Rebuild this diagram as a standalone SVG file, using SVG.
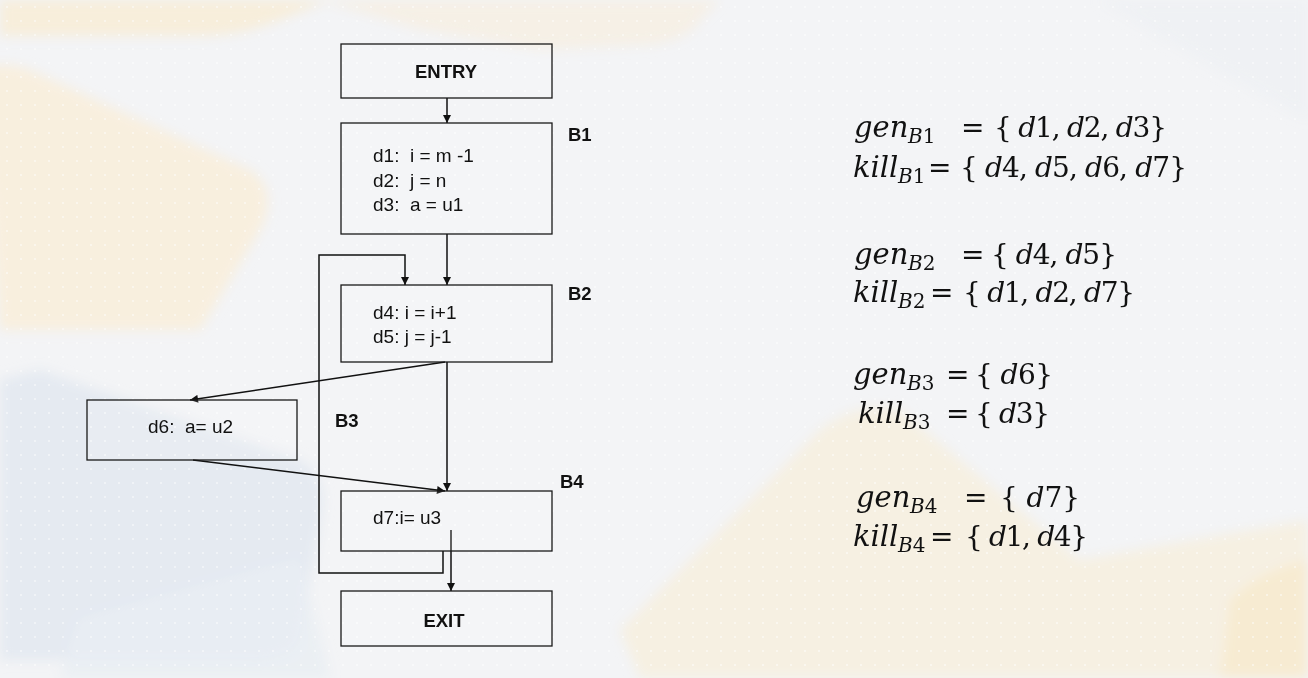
<svg xmlns="http://www.w3.org/2000/svg" width="1308" height="678" viewBox="0 0 1308 678">
<defs>
<style>
.box{fill:rgba(255,255,255,0.12);stroke:#1a1a1a;stroke-width:1.3}
.stmt{font-family:"Liberation Sans",Arial,sans-serif;font-size:19px;fill:#111;white-space:pre}
.lbl{font-family:"Liberation Sans",Arial,sans-serif;font-size:18.5px;font-weight:bold;fill:#111}
.edge{fill:none;stroke:#111;stroke-width:1.5}
.m{font-family:"DejaVu Serif","Liberation Serif",serif;font-size:28px;fill:#111;white-space:pre}
.nm{font-family:"DejaVu Serif","Liberation Serif",serif;font-size:29px;font-style:italic;fill:#111}
.it{font-style:italic}
.sub{font-family:"DejaVu Serif","Liberation Serif",serif;font-size:20px;fill:#111}
</style>
<marker id="arr" viewBox="0 0 10 10" refX="10" refY="5" markerWidth="9" markerHeight="8" markerUnits="userSpaceOnUse" orient="auto">
<path d="M0,0 L10,5 L0,10 z" fill="#111"/>
</marker>
<pattern id="dots" width="14" height="14" patternUnits="userSpaceOnUse">
<circle cx="7" cy="7" r="1.1" fill="#ffffff" opacity="0.55"/>
</pattern>
<filter id="blur" x="-20%" y="-20%" width="140%" height="140%"><feGaussianBlur stdDeviation="6"/></filter>
</defs>
<g id="background">
<rect width="1308" height="678" fill="#f3f4f6"/>
<g filter="url(#blur)">
<path d="M0,0 L330,0 L280,20 Q240,36 200,36 L0,36 z" fill="#f8ecd4" opacity="0.8"/>
<path d="M-20,70 Q0,60 30,70 L250,170 Q280,190 260,230 L200,330 L0,330 z" fill="#f8eedc" opacity="0.9"/>
<path d="M320,0 L720,0 L700,20 Q690,40 650,45 L540,50 L420,30 z" fill="#f6eedf" opacity="0.7"/>
<path d="M0,380 L40,370 L300,460 Q330,480 320,520 L300,640 Q290,660 250,660 L0,660 z" fill="#e3e9f1" opacity="0.9"/>
<path d="M80,620 L300,560 L330,678 L60,678 z" fill="#e9edf3" opacity="0.8"/>
<path d="M820,430 Q860,400 900,410 L1080,560 L1308,520 L1308,678 L640,678 L620,630 z" fill="#f6efe0" opacity="0.9"/>
<path d="M1230,600 Q1260,570 1308,560 L1308,678 L1220,678 z" fill="#f7ebd0" opacity="0.9"/>
<path d="M1100,0 L1308,0 L1308,120 Q1200,60 1100,0 z" fill="#eef0f4" opacity="0.8"/>
</g>
<rect width="1308" height="678" fill="url(#dots)"/>
</g>

<g id="connectors">
<line class="edge" x1="447" y1="98" x2="447" y2="123" marker-end="url(#arr)"/>
<line class="edge" x1="447" y1="234" x2="447" y2="285" marker-end="url(#arr)"/>
<line class="edge" x1="447" y1="362" x2="447" y2="491" marker-end="url(#arr)"/>
<line class="edge" x1="445" y1="362" x2="190" y2="400" marker-end="url(#arr)"/>
<line class="edge" x1="193" y1="460" x2="445" y2="491" marker-end="url(#arr)"/>
<path class="edge" d="M443,551 L443,573 L319,573 L319,255 L405,255 L405,285" marker-end="url(#arr)"/>
<line class="edge" x1="451" y1="530" x2="451" y2="591" marker-end="url(#arr)"/>
</g>

<g id="entry">
<rect class="box" x="341" y="44" width="211" height="54"/>
<text class="lbl" x="446" y="78" text-anchor="middle">ENTRY</text>
</g>
<g id="b1">
<rect class="box" x="341" y="123" width="211" height="111"/>
<text class="stmt" x="373" y="162">d1:  i = m -1</text>
<text class="stmt" x="373" y="187">d2:  j = n</text>
<text class="stmt" x="373" y="211">d3:  a = u1</text>
<text class="lbl" x="568" y="141">B1</text>
</g>
<g id="b2">
<rect class="box" x="341" y="285" width="211" height="77"/>
<text class="stmt" x="373" y="319">d4: i = i+1</text>
<text class="stmt" x="373" y="343">d5: j = j-1</text>
<text class="lbl" x="568" y="300">B2</text>
</g>
<g id="b3">
<rect class="box" x="87" y="400" width="210" height="60"/>
<text class="stmt" x="148" y="433">d6:  a= u2</text>
<text class="lbl" x="335" y="427">B3</text>
</g>
<g id="b4">
<rect class="box" x="341" y="491" width="211" height="60"/>
<text class="stmt" x="373" y="524">d7:i= u3</text>
<text class="lbl" x="560" y="488">B4</text>
</g>
<g id="exit">
<rect class="box" x="341" y="591" width="211" height="55"/>
<text class="lbl" x="444" y="627" text-anchor="middle">EXIT</text>
</g>

<g id="equations">
<text class="nm" x="854" y="137">gen</text>
<text class="sub" x="908" y="143"><tspan class="it">B</tspan>1</text>
<text class="m" x="961" y="137">=</text>
<text class="m" x="994" y="137" textLength="173" lengthAdjust="spacing">{ <tspan class="it">d</tspan>1, <tspan class="it">d</tspan>2, <tspan class="it">d</tspan>3}</text>

<text class="nm" x="853" y="177">kill</text>
<text class="sub" x="898" y="183"><tspan class="it">B</tspan>1</text>
<text class="m" x="928" y="177">=</text>
<text class="m" x="960" y="177" textLength="227" lengthAdjust="spacing">{ <tspan class="it">d</tspan>4, <tspan class="it">d</tspan>5, <tspan class="it">d</tspan>6, <tspan class="it">d</tspan>7}</text>

<text class="nm" x="854" y="264">gen</text>
<text class="sub" x="908" y="270"><tspan class="it">B</tspan>2</text>
<text class="m" x="961" y="264">=</text>
<text class="m" x="991" y="264" textLength="126" lengthAdjust="spacing">{ <tspan class="it">d</tspan>4, <tspan class="it">d</tspan>5}</text>

<text class="nm" x="853" y="302">kill</text>
<text class="sub" x="898" y="308"><tspan class="it">B</tspan>2</text>
<text class="m" x="930" y="302">=</text>
<text class="m" x="963" y="302" textLength="172" lengthAdjust="spacing">{ <tspan class="it">d</tspan>1, <tspan class="it">d</tspan>2, <tspan class="it">d</tspan>7}</text>

<text class="nm" x="853" y="384">gen</text>
<text class="sub" x="907" y="390"><tspan class="it">B</tspan>3</text>
<text class="m" x="946" y="384">=</text>
<text class="m" x="975" y="384" textLength="78" lengthAdjust="spacing">{ <tspan class="it">d</tspan>6}</text>

<text class="nm" x="858" y="423">kill</text>
<text class="sub" x="903" y="429"><tspan class="it">B</tspan>3</text>
<text class="m" x="946" y="423">=</text>
<text class="m" x="975" y="423" textLength="75" lengthAdjust="spacing">{ <tspan class="it">d</tspan>3}</text>

<text class="nm" x="856" y="507">gen</text>
<text class="sub" x="910" y="513"><tspan class="it">B</tspan>4</text>
<text class="m" x="964" y="507">=</text>
<text class="m" x="1000" y="507" textLength="80" lengthAdjust="spacing">{ <tspan class="it">d</tspan>7}</text>

<text class="nm" x="853" y="546">kill</text>
<text class="sub" x="898" y="552"><tspan class="it">B</tspan>4</text>
<text class="m" x="930" y="546">=</text>
<text class="m" x="965" y="546" textLength="123" lengthAdjust="spacing">{ <tspan class="it">d</tspan>1, <tspan class="it">d</tspan>4}</text>
</g>
</svg>
